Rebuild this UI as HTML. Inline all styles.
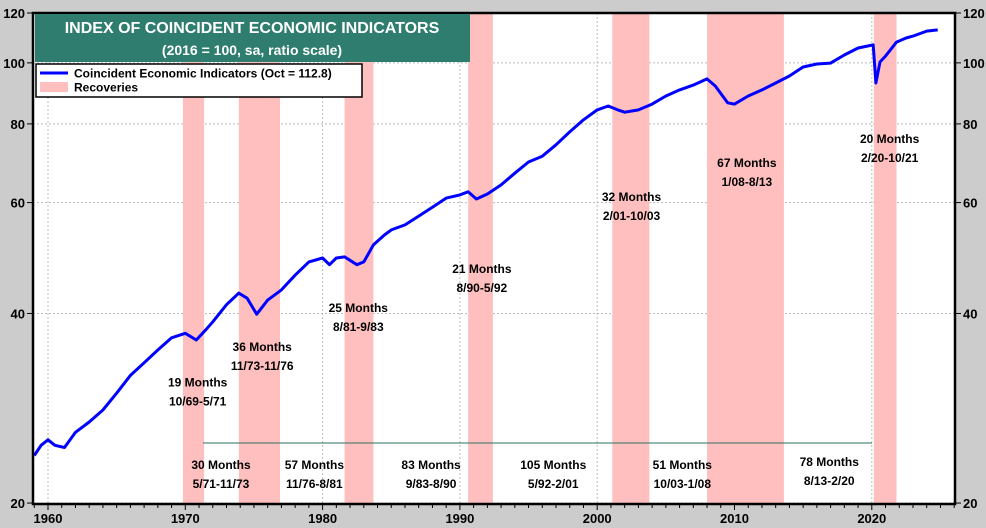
<!DOCTYPE html>
<html><head><meta charset="utf-8"><style>
body{margin:0;background:#cccccc;}
svg{display:block;font-family:"Liberation Sans",Arial,sans-serif;}
</style></head><body>
<svg id="chart" width="986" height="528" viewBox="0 0 986 528" xmlns="http://www.w3.org/2000/svg">
<rect x="0" y="0" width="986" height="528" fill="#cccccc"/>
<rect x="33" y="13" width="922" height="491" fill="#ffffff"/>
<g id="grid"></g>
<g id="bands"></g>
<line x1="203" y1="443" x2="872" y2="443" stroke="#2e6f5e" stroke-width="1"/>
<g id="labels"></g>
<path id="series" fill="none" stroke="#0000ff" stroke-width="3" stroke-linejoin="round"/>
<rect x="33" y="13" width="922" height="491" fill="none" stroke="#000" stroke-width="2.5"/>
<g id="axes"></g>
<g>
<rect x="35" y="14" width="435" height="48" fill="#2e7d6e"/>
<text x="252" y="33" text-anchor="middle" fill="#fff" font-size="16" font-weight="bold">INDEX OF COINCIDENT ECONOMIC INDICATORS</text>
<text x="252" y="55" text-anchor="middle" fill="#fff" font-size="14" font-weight="bold">(2016 = 100, sa, ratio scale)</text>
</g>
<g>
<rect x="36" y="64" width="326" height="33" fill="#fff" stroke="#000" stroke-width="1.5"/>
<line x1="40" y1="73" x2="68" y2="73" stroke="#0000ff" stroke-width="3"/>
<text x="74" y="77.5" font-size="12" font-weight="bold">Coincident Economic Indicators (Oct = 112.8)</text>
<rect x="40" y="82" width="28" height="10" fill="#ffbfbf"/>
<text x="74" y="91.5" font-size="12" font-weight="bold">Recoveries</text>
</g>
</svg>
<script>
const years=[1959.0,1959.5,1960.0,1960.5,1961.2,1962,1963,1964,1965,1966,1967,1968,1969,1970,1970.8,1971.5,1972,1973,1973.9,1974.5,1975.2,1976,1977,1978,1979,1980,1980.5,1981,1981.6,1982.5,1983,1983.7,1984.5,1985,1986,1987,1988,1989,1990,1990.6,1991.2,1992,1993,1994,1995,1996,1997,1998,1999,2000,2000.8,2001.5,2002,2003,2004,2005,2006,2007,2008,2008.6,2009.5,2010,2011,2012,2013,2014,2015,2016,2017,2018,2019,2020.1,2020.3,2020.6,2021,2021.8,2022.5,2023,2024,2024.8];
const values=[23.8,24.7,25.2,24.7,24.5,25.9,26.9,28.1,29.9,31.9,33.4,35.0,36.6,37.2,36.3,37.7,38.8,41.3,43.1,42.3,39.9,42.0,43.6,46.0,48.3,49.0,47.8,49.0,49.2,47.8,48.3,51.4,53.3,54.3,55.3,57.1,59.0,61.0,61.7,62.4,60.8,61.9,64.0,66.8,69.6,71.1,74.1,77.7,81.2,84.2,85.4,84.2,83.5,84.2,86.0,88.6,90.6,92.2,94.3,91.9,86.4,86.0,88.6,90.6,92.9,95.3,98.5,99.6,99.9,102.9,105.6,106.8,92.9,100.3,102.5,107.9,109.5,110.3,112.3,112.8];
const recStart=[1969.83,1973.9,1981.6,1990.6,2001.1,2008.0,2020.15];
const recEnd=[1971.37,1976.9,1983.7,1992.4,2003.8,2013.6,2021.8];
const yTicks=[20,40,60,80,100,120];
const xTicks=[1960,1970,1980,1990,2000,2010,2020];
const recLabels=[["19 Months","10/69-5/71"],["36 Months","11/73-11/76"],["25 Months","8/81-9/83"],["21 Months","8/90-5/92"],["32 Months","2/01-10/03"],["67 Months","1/08-8/13"],["20 Months","2/20-10/21"]];
const recLabelYear=[1970.9,1975.6,1982.6,1991.6,2002.5,2010.9,2021.3];
const recLabelVal=[30.6,34.9,40.2,46.4,60.4,68.3,74.6];
const expLabels=[["30 Months","5/71-11/73"],["57 Months","11/76-8/81"],["83 Months","9/83-8/90"],["105 Months","5/92-2/01"],["51 Months","10/03-1/08"],["78 Months","8/13-2/20"]];
const expLabelYear=[1972.6,1979.4,1987.9,1996.8,2006.2,2016.9];
const expLabelVal=[22.66,22.66,22.66,22.66,22.66,22.9];

const X0=48,PXY=13.73,Y0=13,LNPX=273.5;
const xs=y=>X0+(y-1960)*PXY;
const ys=v=>Y0+Math.log(120/v)*LNPX;
const NS="http://www.w3.org/2000/svg";
function mk(tag,attrs,parent,txt){const e=document.createElementNS(NS,tag);for(const k in attrs)e.setAttribute(k,attrs[k]);if(txt!==undefined)e.textContent=txt;parent.appendChild(e);return e;}
const grid=document.getElementById('grid'),bands=document.getElementById('bands'),labels=document.getElementById('labels'),axes=document.getElementById('axes');
xTicks.forEach(t=>{const l=mk('line',{x1:xs(t),x2:xs(t),y1:13,y2:504,stroke:'#bbb','stroke-dasharray':'2,2'},grid);

});
yTicks.forEach(t=>{const l=mk('line',{x1:33,x2:955,y1:ys(t),y2:ys(t),stroke:'#bbb','stroke-dasharray':'2,2'},grid);

});
recStart.forEach((s,i)=>{const r=mk('rect',{x:xs(s),y:13,width:xs(recEnd[i])-xs(s),height:491,fill:'#ffbfbf'},bands);

});
function lab(pair,yr,v){const g=mk('g',{},labels);


const x=xs(yr),y=ys(v);
mk('text',{x:x,y:y,'text-anchor':'middle','font-size':12,'font-weight':'bold'},g,pair[0]);
mk('text',{x:x,y:y+19,'text-anchor':'middle','font-size':12,'font-weight':'bold'},g,pair[1]);}
recLabels.forEach((p,i)=>lab(p,recLabelYear[i],recLabelVal[i]));
expLabels.forEach((p,i)=>lab(p,expLabelYear[i],expLabelVal[i]));
let d='';years.forEach((y,i)=>{d+=(i?'L':'M')+xs(y).toFixed(1)+','+ys(values[i]).toFixed(1);});
document.getElementById('series').setAttribute('d',d);
yTicks.forEach(t=>{const y=ys(t);
mk('line',{x1:27,x2:33,y1:y,y2:y,stroke:'#000'},axes);
mk('line',{x1:955,x2:961,y1:y,y2:y,stroke:'#000'},axes);
const a=mk('text',{x:25,y:y+5,'text-anchor':'end','font-size':13,'font-weight':'bold'},axes,t);


const b=mk('text',{x:963,y:y+5,'text-anchor':'start','font-size':13,'font-weight':'bold'},axes,t);

});
for(let yr=1959;yr<=2026;yr++){const x=xs(yr);if(x<33||x>955)continue;
mk('line',{x1:x,x2:x,y1:504,y2:xTicks.includes(yr)?510:508,stroke:'#000'},axes);}
xTicks.forEach(t=>{const a=mk('text',{x:xs(t),y:523,'text-anchor':'middle','font-size':13,'font-weight':'bold'},axes,t);

});
</script>
</body></html>
